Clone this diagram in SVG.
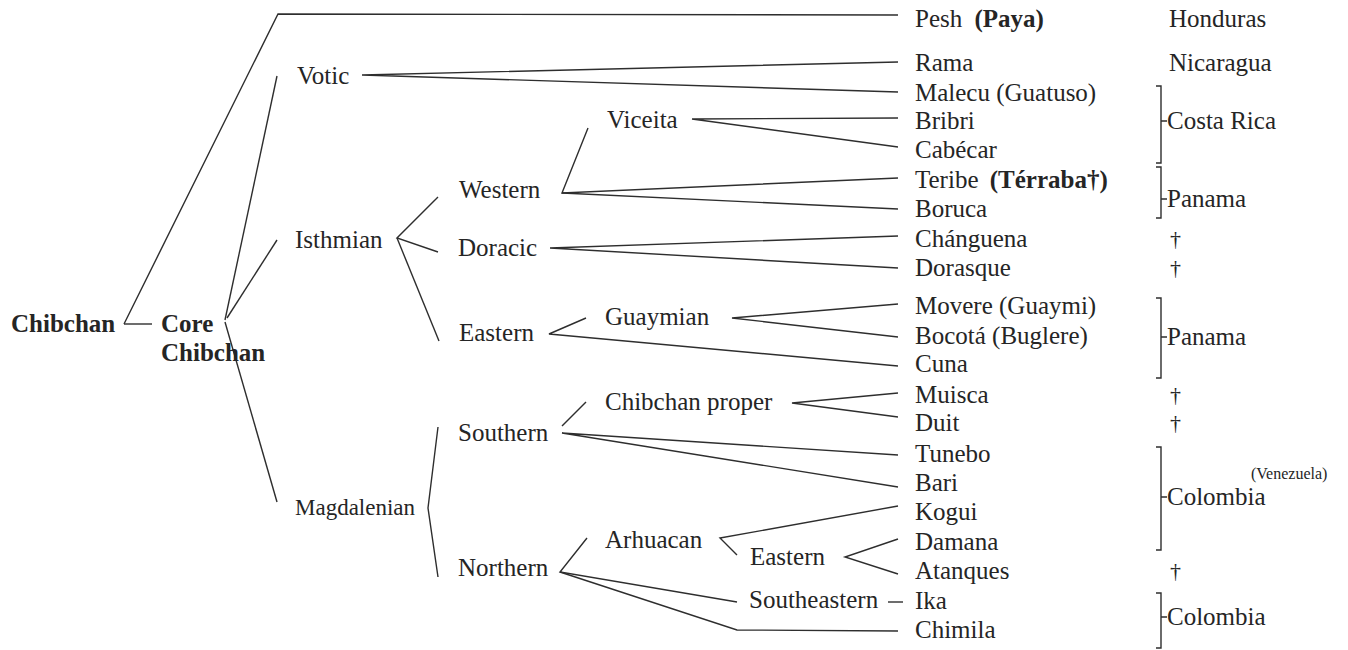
<svg xmlns="http://www.w3.org/2000/svg" width="1348" height="650" viewBox="0 0 1348 650">
<style>
text{font-family:"Liberation Serif","Times New Roman",serif;font-size:25px;fill:#252525}
.b{font-weight:bold}
.sm{font-size:16px}
.dg{font-size:22px}
.c path{fill:none;stroke:#2e2e2e;stroke-width:1.4;stroke-linejoin:miter}
.br path{fill:none;stroke:#2e2e2e;stroke-width:1.4}
</style>
<rect width="1348" height="650" fill="#fff"/>
<g class="c" id="connectors">
<path d="M124,324 L152,324"/>
<path d="M124,324 L278,14 L898,15"/>
<path d="M277,76 L225,320"/>
<path d="M277,240 L227,318"/>
<path d="M225,322 L277,502"/>
<path d="M898,62 L362,75 L898,92"/>
<path d="M438,197 L397,238 L438,252"/>
<path d="M397,238 L439,341"/>
<path d="M588,128 L562,193 L898,178"/>
<path d="M562,193 L898,209"/>
<path d="M898,118 L692,119 L898,147"/>
<path d="M898,236 L550,248 L898,268"/>
<path d="M586,318 L549,334 L898,366"/>
<path d="M898,304 L732,318 L898,337"/>
<path d="M438,427 L428,508 L438,577"/>
<path d="M586,402 L562,426"/>
<path d="M898,455 L562,433 L898,487"/>
<path d="M898,393 L792,403 L898,417"/>
<path d="M587,538 L560,572 L737,602"/>
<path d="M560,572 L737,630 L898,631"/>
<path d="M898,506 L720,538 L737,555"/>
<path d="M898,539 L845,557 L898,574"/>
<path d="M888,602 L903,602"/>
</g>
<g class="br" id="brackets">
<path d="M1156,86 L1161,86 L1161,163 L1156,163 M1161,121 L1167,121"/>
<path d="M1156,167 L1161,167 L1161,218 L1156,218 M1161,199 L1167,199"/>
<path d="M1156,298 L1161,298 L1161,378 L1156,378 M1161,337 L1167,337"/>
<path d="M1156,447 L1161,447 L1161,550 L1156,550 M1161,497 L1167,497"/>
<path d="M1156,593 L1161,593 L1161,648 L1156,648 M1161,617 L1167,617"/>
</g>
<g id="n-chibchan"><text class="b" x="11" y="332">Chibchan</text></g>
<g id="n-core"><text class="b" x="161" y="332">Core</text><text class="b" x="161" y="361">Chibchan</text></g>
<g id="n-votic"><text x="297" y="84">Votic</text></g>
<g id="n-isthmian"><text x="295" y="248">Isthmian</text></g>
<g id="n-magdalenian"><text x="295" y="515" style="font-size:23px">Magdalenian</text></g>
<g id="n-western"><text x="459" y="198">Western</text></g>
<g id="n-doracic"><text x="458" y="256">Doracic</text></g>
<g id="n-eastern"><text x="459" y="341">Eastern</text></g>
<g id="n-southern"><text x="458" y="441">Southern</text></g>
<g id="n-northern"><text x="458" y="576">Northern</text></g>
<g id="n-viceita"><text x="607" y="128">Viceita</text></g>
<g id="n-guaymian"><text x="605" y="325">Guaymian</text></g>
<g id="n-chibchanproper"><text x="605" y="410">Chibchan proper</text></g>
<g id="n-arhuacan"><text x="605" y="548">Arhuacan</text></g>
<g id="n-eastern2"><text x="750" y="565">Eastern</text></g>
<g id="n-southeastern"><text x="749" y="608">Southeastern</text></g>
<g id="n-pesh"><text x="915" y="27">Pesh <tspan class="b" dx="6">(Paya)</tspan></text></g>
<g id="n-rama"><text x="915" y="71">Rama</text></g>
<g id="n-malecu"><text x="915" y="101">Malecu (Guatuso)</text></g>
<g id="n-bribri"><text x="915" y="129">Bribri</text></g>
<g id="n-cabecar"><text x="915" y="158">Cabécar</text></g>
<g id="n-teribe"><text x="915" y="188">Teribe <tspan class="b" dx="5">(Térraba†)</tspan></text></g>
<g id="n-boruca"><text x="915" y="217">Boruca</text></g>
<g id="n-changuena"><text x="915" y="247">Chánguena</text></g>
<g id="n-dorasque"><text x="915" y="276">Dorasque</text></g>
<g id="n-movere"><text x="915" y="314">Movere (Guaymi)</text></g>
<g id="n-bocota"><text x="915" y="344">Bocotá (Buglere)</text></g>
<g id="n-cuna"><text x="915" y="372">Cuna</text></g>
<g id="n-muisca"><text x="915" y="403">Muisca</text></g>
<g id="n-duit"><text x="915" y="431">Duit</text></g>
<g id="n-tunebo"><text x="915" y="462">Tunebo</text></g>
<g id="n-bari"><text x="915" y="491">Bari</text></g>
<g id="n-kogui"><text x="915" y="520">Kogui</text></g>
<g id="n-damana"><text x="915" y="550">Damana</text></g>
<g id="n-atanques"><text x="915" y="579">Atanques</text></g>
<g id="n-ika"><text x="915" y="609">Ika</text></g>
<g id="n-chimila"><text x="915" y="638">Chimila</text></g>
<g id="countries">
<text x="1169" y="27">Honduras</text>
<text x="1169" y="71">Nicaragua</text>
<text x="1167" y="129">Costa Rica</text>
<text x="1167" y="207">Panama</text>
<text class="dg" x="1170" y="246">†</text>
<text class="dg" x="1170" y="275">†</text>
<text x="1167" y="345">Panama</text>
<text class="dg" x="1170" y="402">†</text>
<text class="dg" x="1170" y="430">†</text>
<text x="1167" y="505">Colombia</text>
<text class="sm" x="1251" y="479">(Venezuela)</text>
<text class="dg" x="1170" y="578">†</text>
<text x="1167" y="625">Colombia</text>
</g>
</svg>
